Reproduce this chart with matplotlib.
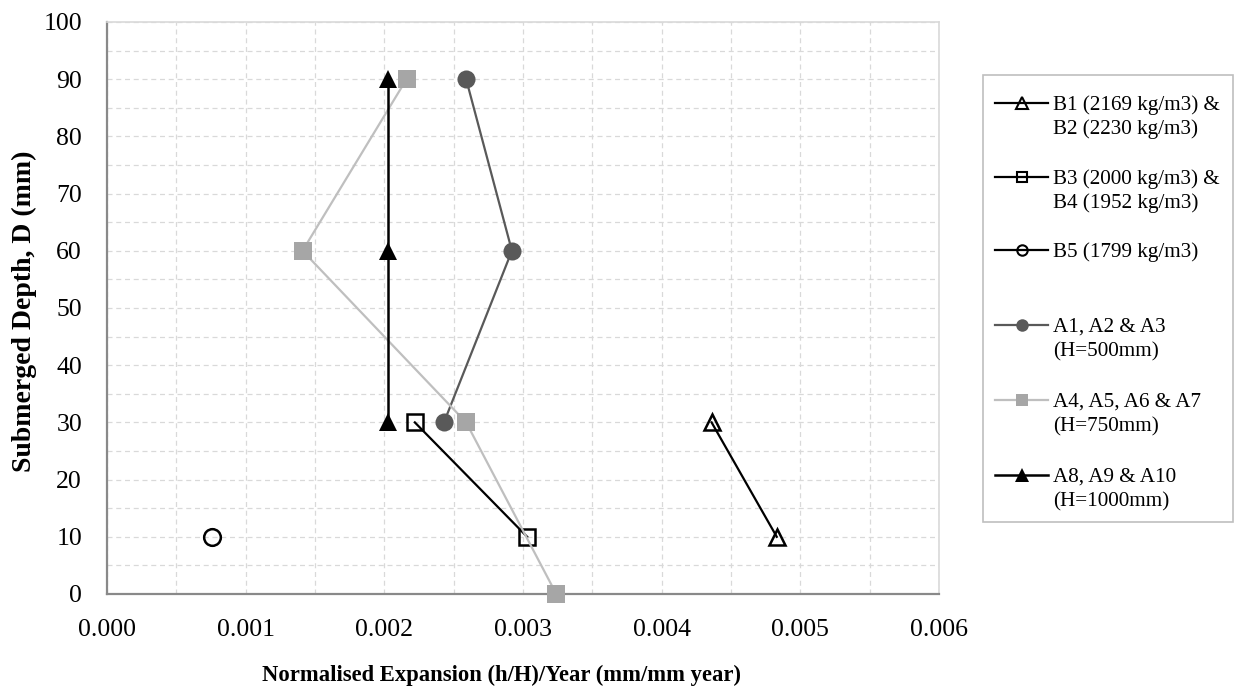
import matplotlib
matplotlib.use("Agg")
import matplotlib.pyplot as plt
from matplotlib.lines import Line2D
from matplotlib.patches import Rectangle
from matplotlib.ticker import MultipleLocator, FormatStrFormatter

plt.rcParams['font.family'] = ['Liberation Serif', 'DejaVu Serif']

# Normalised expansion per year (mm/mm year) against submerged depth (mm)
depth_b12 = [30, 10]
exp_b12 = [0.00436, 0.00483]

depth_b34 = [30, 10]
exp_b34 = [0.00222, 0.00303]

depth_b5 = [10]
exp_b5 = [0.000755]

depth_a13 = [90, 60, 30]
exp_a13 = [0.00259, 0.00292, 0.00243]

depth_a47 = [90, 60, 30, 0]
exp_a47 = [0.00216, 0.00141, 0.00259, 0.00324]

depth_a810 = [90, 60, 30]
exp_a810 = [0.00203, 0.00203, 0.00203]

labels = [
    "B1 (2169 kg/m3) &\nB2 (2230 kg/m3)",
    "B3 (2000 kg/m3) &\nB4 (1952 kg/m3)",
    "B5 (1799 kg/m3)",
    "A1, A2 & A3\n(H=500mm)",
    "A4, A5, A6 & A7\n(H=750mm)",
    "A8, A9 & A10\n(H=1000mm)",
]

W, H = 1235, 696
fig = plt.figure(figsize=(W / 100, H / 100), dpi=100)
ax = fig.add_axes([107 / W, 1 - 594 / H, (939 - 107) / W, (594 - 22) / H])

styles = [
    dict(color='black', lw=1.6, marker='^', ms=12, mfc='none', mec='black', mew=1.8),
    dict(color='black', lw=1.6, marker='s', ms=12, mfc='none', mec='black', mew=1.8),
    dict(color='black', lw=1.6, marker='o', ms=12, mfc='none', mec='black', mew=1.8),
    dict(color='#595959', lw=1.6, marker='o', ms=13, mfc='#595959', mec='#595959', mew=0),
    dict(color='#bfbfbf', lw=1.6, marker='s', ms=12.5, mfc='#a6a6a6', mec='#a6a6a6', mew=0),
    dict(color='black', lw=1.8, marker='^', ms=13, mfc='black', mec='black', mew=0),
]
series = [
    (exp_b12, depth_b12),
    (exp_b34, depth_b34),
    (exp_b5, depth_b5),
    (exp_a13, depth_a13),
    (exp_a47, depth_a47),
    (exp_a810, depth_a810),
]
for (x, y), st in zip(series, styles):
    ax.plot(x, y, clip_on=False, zorder=3, **st)

ax.set_xlim(0, 0.006)
ax.set_ylim(0, 100)
ax.xaxis.set_major_locator(MultipleLocator(0.001))
ax.xaxis.set_minor_locator(MultipleLocator(0.0005))
ax.yaxis.set_major_locator(MultipleLocator(10))
ax.yaxis.set_minor_locator(MultipleLocator(5))
ax.xaxis.set_major_formatter(FormatStrFormatter('%.3f'))
ax.grid(which='both', color='#d9d9d9', linestyle=(0, (4, 3)), linewidth=0.9)
ax.set_axisbelow(True)
ax.tick_params(which='both', length=0)
ax.tick_params(axis='x', labelsize=18.5, pad=18)
ax.tick_params(axis='y', labelsize=18.5, pad=18)

for side in ('top', 'right'):
    ax.spines[side].set_color('#d9d9d9')
    ax.spines[side].set_linewidth(1.2)
for side in ('left', 'bottom'):
    ax.spines[side].set_color('#898989')
    ax.spines[side].set_linewidth(1.6)

fig.text(502 / W, 1 - 675 / H, 'Normalised Expansion (h/H)/Year (mm/mm year)',
         ha='center', va='center', fontsize=16.3, fontweight='bold')
fig.text(24 / W, 1 - 311 / H, 'Submerged Depth, D (mm)', rotation=90,
         ha='center', va='center', fontsize=20, fontweight='bold')

# Legend box drawn in figure pixel coordinates
def fx(px):
    return px / W

def fy(py):
    return 1 - py / H

fig.add_artist(Rectangle((fx(983), fy(522)), fx(1233) - fx(983), (522 - 75) / H,
                         transform=fig.transFigure, facecolor='white',
                         edgecolor='#bfbfbf', linewidth=1.2))
entry_y = [103, 177, 250, 325, 400, 475]
legend_ms = [9, 7.5, 7.5, 9, 8, 9.5]
line_step = 24
for lab, st, yy, lms in zip(labels, styles, entry_y, legend_ms):
    st2 = dict(st)
    st2['ms'] = lms
    if st2.get('mew', 0):
        st2['mew'] = 1.5
    fig.add_artist(Line2D([fx(995), fx(1048)], [fy(yy), fy(yy)],
                          transform=fig.transFigure,
                          **{k: v for k, v in st2.items() if k != 'marker'}))
    fig.add_artist(Line2D([fx(1022)], [fy(yy)], transform=fig.transFigure,
                          linestyle='none',
                          **{k: v for k, v in st2.items() if k not in ('color', 'lw')}))
    for i, part in enumerate(lab.split('\n')):
        fig.text(fx(1053), fy(yy + i * line_step), part, ha='left',
                 va='center_baseline', fontsize=15.2)

fig.savefig('out.png', dpi=100)
